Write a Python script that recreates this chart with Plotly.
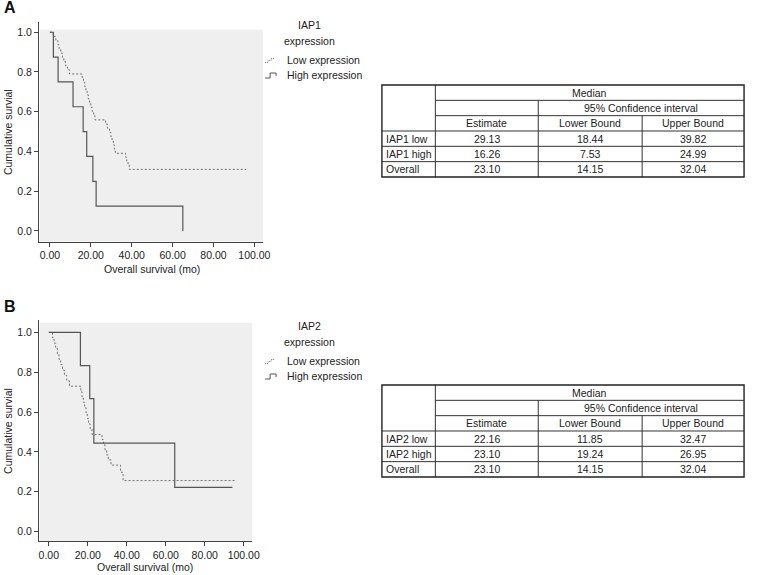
import plotly.graph_objects as go

# ---------------- data ----------------
# Panel A (IAP1) Kaplan-Meier steps
A_low_time = [0, 1.6, 2.9, 3.9, 4.5, 5.3, 6.1, 6.8, 7.6, 8.6, 9.6,
              15.8, 16.4, 17.0, 17.6, 18.2, 18.8, 19.4, 20.0, 20.7, 21.4, 22.0,
              27.2, 28.1, 29.13, 29.8, 30.4, 31.0, 31.5, 32.0,
              37.0, 37.6, 38.2, 38.8, 96.0]
A_low_surv = [1.000, 0.979, 0.958, 0.937, 0.916, 0.895, 0.874, 0.853, 0.832, 0.811, 0.790,
              0.769, 0.748, 0.727, 0.706, 0.685, 0.664, 0.643, 0.622, 0.601, 0.580, 0.559,
              0.538, 0.517, 0.496, 0.475, 0.454, 0.433, 0.412, 0.391,
              0.371, 0.351, 0.331, 0.310, 0.310]
A_high_time = [0, 1.7, 4.0, 11.3, 16.26, 18.0, 21.0, 22.6, 65.0]
A_high_surv = [1.0, 0.875, 0.75, 0.625, 0.5, 0.375, 0.25, 0.125, 0.0]

# Panel B (IAP2) Kaplan-Meier steps
B_low_time = [0, 1.9, 2.7, 3.5, 4.4, 5.2, 6.1, 7.0, 8.0, 9.2, 10.6,
              16.4, 17.0, 17.7, 18.4, 19.1, 19.7, 20.4, 21.2, 22.16,
              27.3, 28.0, 28.8, 29.7, 30.5, 31.9,
              36.8, 38.1, 95.4]
B_low_surv = [1.0, 0.973, 0.946, 0.919, 0.892, 0.865, 0.838, 0.811, 0.784, 0.757, 0.730,
              0.703, 0.676, 0.649, 0.622, 0.595, 0.568, 0.541, 0.514, 0.487,
              0.462, 0.436, 0.411, 0.385, 0.360, 0.334,
              0.298, 0.256, 0.256]
B_high_time = [0, 16.2, 21.0, 23.10, 64.6, 94.2]
B_high_surv = [1.0, 0.833, 0.667, 0.444, 0.222, 0.222]

# Tables
header_top = "Median"
header_ci = "95% Confidence interval"
col_heads = ["Estimate", "Lower Bound", "Upper Bound"]
A_rows = ["IAP1 low", "IAP1 high", "Overall"]
A_est = [29.13, 16.26, 23.10]
A_lower = [18.44, 7.53, 14.15]
A_upper = [39.82, 24.99, 32.04]
B_rows = ["IAP2 low", "IAP2 high", "Overall"]
B_est = [22.16, 23.10, 23.10]
B_lower = [11.85, 19.24, 14.15]
B_upper = [32.47, 26.95, 32.04]

legend_labels = ["Low expression", "High expression"]
x_ticks = [0, 20, 40, 60, 80, 100]
y_ticks = [0.0, 0.2, 0.4, 0.6, 0.8, 1.0]

# ---------------- layout helpers ----------------
W, H = 757, 575
FONT = "Liberation Sans, Arial, sans-serif"
TXT = "#222222"
FS = 10.5


def px(x):
    return x / W


def py(y):
    return 1 - y / H


fig = go.Figure()

LOW_STYLE = dict(shape="hv", color="#707070", width=1, dash="2px,2px")
HIGH_STYLE = dict(shape="hv", color="#555555", width=1.2)

fig.add_trace(go.Scatter(x=A_low_time, y=A_low_surv, mode="lines", line=LOW_STYLE,
                         xaxis="x", yaxis="y", showlegend=False, hoverinfo="skip"))
fig.add_trace(go.Scatter(x=A_high_time, y=A_high_surv, mode="lines", line=HIGH_STYLE,
                         xaxis="x", yaxis="y", showlegend=False, hoverinfo="skip"))
fig.add_trace(go.Scatter(x=B_low_time, y=B_low_surv, mode="lines", line=LOW_STYLE,
                         xaxis="x2", yaxis="y2", showlegend=False, hoverinfo="skip"))
fig.add_trace(go.Scatter(x=B_high_time, y=B_high_surv, mode="lines", line=HIGH_STYLE,
                         xaxis="x2", yaxis="y2", showlegend=False, hoverinfo="skip"))

axis_common = dict(ticks="outside", ticklen=4, tickcolor="#444", showline=True,
                   linecolor="#444", linewidth=1, showgrid=False, zeroline=False,
                   tickfont=dict(family=FONT, size=FS, color=TXT))

A_xr = [-5.3, 104.3]
A_yr = [-0.054, 1.053]
B_xr = [-5.0, 104.4]
B_yr = [-0.047, 1.062]

fig.update_layout(
    width=W, height=H,
    margin=dict(l=0, r=0, t=0, b=0),
    paper_bgcolor="white", plot_bgcolor="rgba(0,0,0,0)",
    font=dict(family=FONT, size=FS, color=TXT),
    xaxis=dict(domain=[px(39.5), px(266)], range=A_xr, anchor="y",
               tickvals=x_ticks, tickformat=".2f", **axis_common),
    yaxis=dict(domain=[py(241.7), py(21.7)], range=A_yr, anchor="x",
               tickvals=y_ticks, tickformat=".1f", **axis_common),
    xaxis2=dict(domain=[px(39.5), px(255)], range=B_xr, anchor="y2",
                tickvals=x_ticks, tickformat=".2f", **axis_common),
    yaxis2=dict(domain=[py(541), py(320)], range=B_yr, anchor="x2",
                tickvals=y_ticks, tickformat=".1f", **axis_common),
)

shapes = []
annotations = []

# grey plot backgrounds
shapes.append(dict(type="rect", xref="x", yref="y", x0=A_xr[0] + 0.3, x1=A_xr[1],
                   y0=A_yr[0], y1=1.012, fillcolor="#efefef", line=dict(width=0), layer="below"))
shapes.append(dict(type="rect", xref="x2", yref="y2", x0=B_xr[0] + 0.3, x1=B_xr[1],
                   y0=B_yr[0], y1=1.048, fillcolor="#efefef", line=dict(width=0), layer="below"))


def ann(x, y, text, xanchor="center", size=FS, angle=0):
    annotations.append(dict(x=px(x), y=py(y), xref="paper", yref="paper", text=text,
                            showarrow=False, xanchor=xanchor, yanchor="middle",
                            textangle=angle,
                            font=dict(family=FONT, size=size, color=TXT)))


# panel labels
annotations.append(dict(x=px(2), y=py(7.5), xref="paper", yref="paper", text="<b>A</b>",
                        showarrow=False, xanchor="left", yanchor="middle",
                        font=dict(family=FONT, size=16, color="#111")))
annotations.append(dict(x=px(2), y=py(306), xref="paper", yref="paper", text="<b>B</b>",
                        showarrow=False, xanchor="left", yanchor="middle",
                        font=dict(family=FONT, size=16, color="#111")))

# axis titles
ann(7.5, 131.7, "Cumulative survial", angle=-90)
ann(7.5, 430.5, "Cumulative survial", angle=-90)
ann(154, 269.3, "Overall survival (mo)")
ann(147, 567, "Overall survival (mo)")


def legend(top, name):
    ann(313, top, name)
    ann(313, top + 15.7, "expression")
    ann(288, top + 35, legend_labels[0], xanchor="left")
    ann(288, top + 50, legend_labels[1], xanchor="left")
    y1 = top + 35
    y2 = top + 50

    def path(pts):
        return "M " + " L ".join(f"{px(a):.5f},{py(b):.5f}" for a, b in pts)

    shapes.append(dict(type="path", xref="paper", yref="paper",
                       path=path([(268, y1 + 2.5), (271, y1 + 2.5), (271, y1 + 0.5),
                                  (274, y1 + 0.5), (274, y1 - 1.5), (277, y1 - 1.5)]),
                       line=dict(color="#777", width=1, dash="1px,1px")))
    shapes.append(dict(type="path", xref="paper", yref="paper",
                       path=path([(268, y2 + 3), (273, y2 + 3), (273, y2 - 2),
                                  (279, y2 - 2), (279, y2 + 1)]),
                       line=dict(color="#555", width=1)))


legend(25, "IAP1")
legend(326, "IAP2")


def hline(x0, x1, y, w=1, c="#333"):
    shapes.append(dict(type="line", xref="paper", yref="paper", x0=px(x0), x1=px(x1),
                       y0=py(y), y1=py(y), line=dict(color=c, width=w)))


def vline(x, y0, y1, w=1, c="#333"):
    shapes.append(dict(type="line", xref="paper", yref="paper", x0=px(x), x1=px(x),
                       y0=py(y0), y1=py(y1), line=dict(color=c, width=w)))


def table(top, rows, est, low, up):
    L, C1, C2, C3, R = 386, 440, 544, 649, 752
    rh = 15.33
    ys = [top + i * rh for i in range(7)]
    hline(C1, R, ys[1])
    hline(C1, R, ys[2])
    for i in (3, 4, 5):
        hline(L, R, ys[i])
    vline(C1, ys[0], ys[6])
    vline(C2, ys[1], ys[6])
    vline(C3, ys[2], ys[6])
    shapes.append(dict(type="rect", xref="paper", yref="paper", x0=px(L), x1=px(R),
                       y0=py(ys[6]), y1=py(ys[0]), line=dict(color="#222", width=1.4)))

    def mid(i):
        return top + (i + 0.5) * rh

    ann((C1 + R) / 2, mid(0), header_top)
    ann((C2 + R) / 2, mid(1), header_ci)
    cx = [(C1 + C2) / 2, (C2 + C3) / 2, (C3 + R) / 2]
    for j, h in enumerate(col_heads):
        ann(cx[j], mid(2), h)
    for i, r in enumerate(rows):
        ann(388.5, mid(3 + i), r, xanchor="left")
        ann(cx[0], mid(3 + i), f"{est[i]:.2f}")
        ann(cx[1], mid(3 + i), f"{low[i]:.2f}")
        ann(cx[2], mid(3 + i), f"{up[i]:.2f}")


table(85, A_rows, A_est, A_lower, A_upper)
table(385, B_rows, B_est, B_lower, B_upper)

fig.update_layout(shapes=shapes, annotations=annotations)
fig.write_html("out.html",
               config={"displayModeBar": False},
               post_script="document.body.style.margin='0';document.body.style.overflow='hidden';")
